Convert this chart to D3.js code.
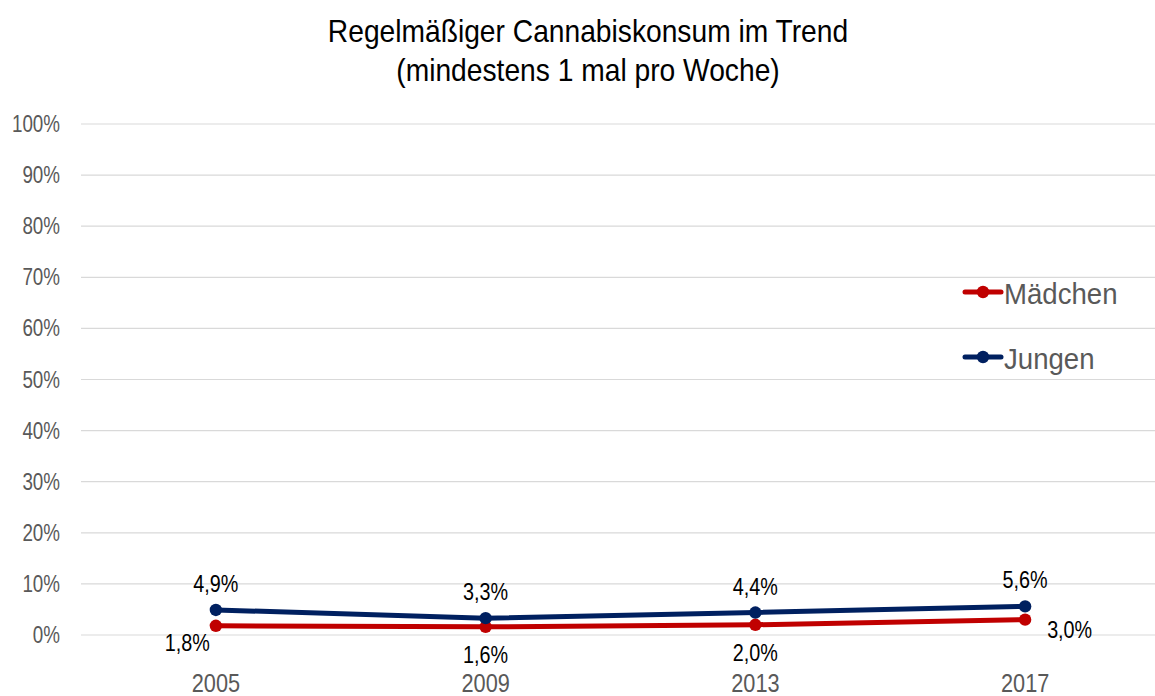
<!DOCTYPE html>
<html>
<head>
<meta charset="utf-8">
<script src="https://cdn.jsdelivr.net/npm/d3@7"></script>
<style>
  html, body { margin: 0; padding: 0; background: #fff; }
  svg { display: block; font-family: "Liberation Sans", Arial, sans-serif; }
</style>
</head>
<body>
<svg id="chart" width="1155" height="696"></svg>
<script>
const years = ["2005", "2009", "2013", "2017"];
const maedchen = [1.8, 1.6, 2.0, 3.0];
const jungen = [4.9, 3.3, 4.4, 5.6];
const yTicks = [0, 10, 20, 30, 40, 50, 60, 70, 80, 90, 100];
const seriesNames = ["Mädchen", "Jungen"];
const seriesColors = ["#C00000", "#002060"];
// label placement per series: above / below / left / right
const maedchenLabelPos = ["left", "below", "below", "right"];
const jungenLabelPos = ["above", "above", "above", "above"];

const svg = d3.select("#chart");
const W = 1155;
const plot = { left: 81, right: 1160, top: 124, bottom: 635 };

const x = d3.scaleBand().domain(years).range([plot.left, plot.right]);
const y = d3.scaleLinear().domain([0, 100]).range([plot.bottom, plot.top]);
const cx = d => x(d) + x.bandwidth() / 2;

// horizontally condensed text, placed at (tx, ty)
function narrowText(parent, tx, ty, str, size, sx, anchor, fill) {
  return parent.append("text")
    .attr("transform", `translate(${tx},${ty}) scale(${sx},1)`)
    .attr("font-size", size).attr("fill", fill)
    .attr("text-anchor", anchor).text(str);
}

// title
narrowText(svg, 588, 42, "Regelmäßiger Cannabiskonsum im Trend", 31, 0.91, "middle", "#000");
narrowText(svg, 588, 81, "(mindestens 1 mal pro Woche)", 31, 0.91, "middle", "#000");

// gridlines
svg.append("g").selectAll("line").data(yTicks).join("line")
  .attr("x1", plot.left).attr("x2", W)
  .attr("y1", d => y(d)).attr("y2", d => y(d))
  .attr("stroke", "#d9d9d9").attr("stroke-width", 1.2);

// y axis labels
const yAxis = d3.axisLeft(y).tickValues(yTicks).tickFormat(d => d + "%").tickSize(0).tickPadding(0);
const gy = svg.append("g").attr("transform", "translate(60,0)").call(yAxis);
gy.select(".domain").remove();
gy.selectAll("text").attr("font-size", 23.5).attr("fill", "#595959")
  .attr("font-family", "Liberation Sans, Arial, sans-serif")
  .attr("transform", "scale(0.8,1)");

// x axis labels
const xAxis = d3.axisBottom(x).tickSize(0).tickPadding(0);
const gx = svg.append("g").attr("transform", "translate(0,673)").call(xAxis);
gx.select(".domain").remove();
gx.selectAll("text").attr("font-size", 26.5).attr("fill", "#595959")
  .attr("font-family", "Liberation Sans, Arial, sans-serif")
  .attr("transform", "scale(0.82,1)");

const fmt = v => d3.format(".1f")(v).replace(".", ",") + "%";

const series = [
  { name: seriesNames[0], values: maedchen, color: seriesColors[0], pos: maedchenLabelPos },
  { name: seriesNames[1], values: jungen, color: seriesColors[1], pos: jungenLabelPos }
];

const line = d3.line().x((d, i) => cx(years[i])).y(d => y(d));

series.forEach(s => {
  svg.append("path").datum(s.values).attr("d", line)
    .attr("fill", "none").attr("stroke", s.color).attr("stroke-width", 5)
    .attr("stroke-linejoin", "round");
  svg.append("g").selectAll("circle").data(s.values).join("circle")
    .attr("cx", (d, i) => cx(years[i])).attr("cy", d => y(d)).attr("r", 6.2)
    .attr("fill", s.color);
  const lg = svg.append("g");
  s.values.forEach((v, i) => {
    const p = s.pos[i], px = cx(years[i]), py = y(v);
    let tx = px, ty = py, anchor = "middle";
    if (p === "above") { ty = py - 18; }
    else if (p === "below") { ty = py + 36; }
    else if (p === "left") { tx = px - 6; ty = py + 25; anchor = "end"; }
    else if (p === "right") { tx = px + 22; ty = py + 18; anchor = "start"; }
    narrowText(lg, tx, ty, fmt(v), 23, 0.86, anchor, "#000");
  });
});

// legend
const legend = svg.append("g");
series.forEach((s, i) => {
  const ly = 292 + i * 65;
  legend.append("line").attr("x1", 965).attr("x2", 1001).attr("y1", ly).attr("y2", ly)
    .attr("stroke", s.color).attr("stroke-width", 5).attr("stroke-linecap", "round");
  legend.append("circle").attr("cx", 983).attr("cy", ly).attr("r", 6.2).attr("fill", s.color);
  narrowText(legend, 1004, ly + 12, s.name, 30, 0.92, "start", "#595959");
});
</script>
</body>
</html>
